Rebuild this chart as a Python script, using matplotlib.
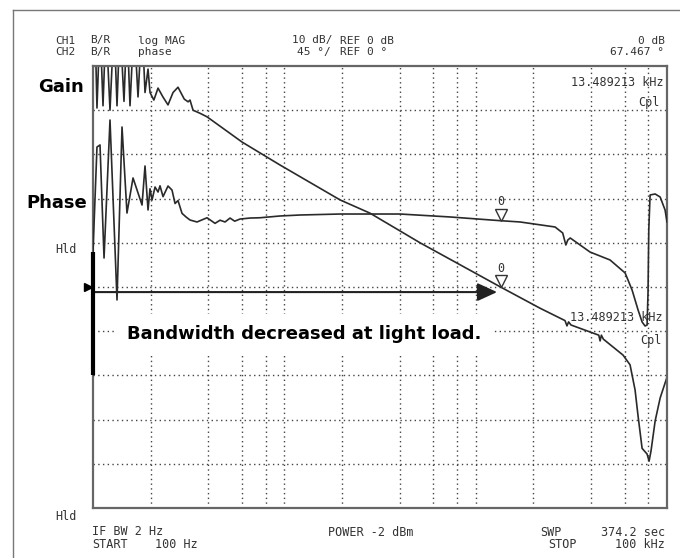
import matplotlib
matplotlib.use("Agg")
import matplotlib.pyplot as plt
from matplotlib.lines import Line2D
from matplotlib.transforms import offset_copy

# --- data ---
gain_freq = [100, 102.4, 104.9, 108.8, 112.8, 116.9, 122.7, 128.8, 133.5, 138.4,
             145.2, 150.5, 156.1, 163.8, 171.9, 180.4, 187.0, 193.9, 198.6, 208,
             218.7, 232, 246.6, 262, 278.2, 300, 314, 321.4, 333.3, 362.6, 394.5,
             601, 949.5, 1956, 2805, 5122, 13489, 21700, 29300, 30000, 30600,
             31500, 44000, 44700, 45400, 46500, 58900, 64100, 68100, 70600, 74100,
             78700, 80600, 82500, 86700, 92100, 100000]
gain_db = [48, 60, 40.5, 60, 41, 60, 40, 60, 41, 60,
           42, 60, 41, 60, 43, 60, 44, 49.3, 44, 42.3,
           45, 43, 41.2, 44, 45.2, 42.5, 41.9, 42.3, 40, 39.3, 38.5,
           32.8, 27.6, 19.7, 16.7, 10, 0, -4.8, -7.6, -8.8, -7.9,
           -8.6, -10.9, -12.2, -10.9, -11.8, -15.4, -17.6, -23.3, -29.2, -36.5,
           -37.8, -39.4, -37.1, -30.3, -25.1, -20.4]

phase_freq = [100, 100, 104.9, 108.8, 114.2, 122.7, 133.5, 141.8, 150.5, 161.9,
              180.4, 187.0, 193.9, 198.6, 203.5, 211, 218.7, 224, 232.3, 246.6,
              258.8, 268.4, 278.2, 291.9, 306.3, 321.4, 349.7, 394.5, 434.3, 461.2,
              490, 520.3, 550, 586.8, 661.8, 746.4, 949.5, 1208, 1956, 4026,
              7348, 13489, 17070, 26000, 28500, 29600, 30300, 31200, 39600, 50400,
              60400, 65700, 70600, 74100, 76800, 78700, 79600, 80300, 81600, 86700,
              92100, 97700, 100000]
phase_deg = [-90, 35.6, 142.5, 144.6, 29.5, 170, -13.2, 162.9, 75.3, 111,
             83.5, 123.2, 78.4, 100, 88.6, 101.8, 96.7, 103, 92, 102.8,
             98.7, 85, 88, 75, 71.3, 68.2, 66.2, 70.5, 64.8, 68,
             66.2, 70.2, 67, 69.2, 70.2, 70.5, 72.3, 73.3, 74.3, 74.3,
             71.3, 67.5, 66.2, 61.1, 55, 42.8, 47.8, 49.9, 35.6, 27.5,
             14.3, -3.1, -23.4, -35.6, -39.7, -38.7, -5, 58, 93.7, 94.7,
             91.6, 78.4, 66.2]

marker_freq = 13489.213
marker_gain = 0.0
marker_phase = 67.467

arrow_start = 100
arrow_end = 12940
arrow_level = -1.15

grid_freqs = [200, 400, 600, 800, 1000, 2000, 4000, 6000, 8000,
              10000, 20000, 40000, 60000, 80000]
grid_db = [-40, -30, -20, -10, 0, 10, 20, 30, 40]

W, H = 680, 558
MONO = "DejaVu Sans Mono"
BOLD = "DejaVu Sans"
TXT = "#333333"
TRACE = "#2a2a2a"


def fx(x):
    return x / W


def fy(y):
    return 1 - y / H


def label(x, y, s, ha="left", **kw):
    # y is the baseline in screen pixels
    opts = dict(family=MONO, size=8, color=TXT, va="baseline", ha=ha)
    opts.update(kw)
    fig.text(fx(x), fy(y), s, **opts)


fig = plt.figure(figsize=(W / 100, H / 100), dpi=100)
fig.patch.set_facecolor("white")

# outer frame of the screenshot (only top and left edges are visible)
fig.add_artist(Line2D([fx(13), 1], [fy(10), fy(10)], color="#777777", lw=1))
fig.add_artist(Line2D([fx(13), fx(13)], [fy(10), 0], color="#777777", lw=1))

ax = fig.add_axes([fx(93), fy(508), (667 - 93) / W, (508 - 66) / H])
ax.set_xscale("log")
ax.set_xlim(100, 100000)
ax.set_ylim(-50, 50)
ax.set_xticks(grid_freqs)
ax.set_xticks([], minor=True)
ax.set_yticks(grid_db)
ax.tick_params(which="both", length=0, labelbottom=False, labelleft=False)
ax.grid(True, color="#444444", lw=1.0, linestyle=(0, (1, 2.4)))
for sp in ax.spines.values():
    sp.set_color("#666666")
    sp.set_linewidth(1.6)

ax2 = ax.twinx()
ax2.set_ylim(-225, 225)
ax2.set_yticks([])
ax2.tick_params(length=0, labelright=False)
for sp in ax2.spines.values():
    sp.set_visible(False)

# traces
ax.plot(gain_freq, gain_db, color=TRACE, lw=1.2)
ax2.plot(phase_freq, phase_deg, color=TRACE, lw=1.2)
ax2.plot(phase_freq[:2], phase_deg[:2], color="black", lw=3, clip_on=False,
         solid_capstyle="butt")

# reference arrow (bandwidth)
ax.annotate("", xy=(arrow_end, arrow_level), xytext=(arrow_start, arrow_level),
            arrowprops=dict(arrowstyle="-|>,head_length=1.2,head_width=0.55",
                            color="#222222", lw=1.5, shrinkA=0, shrinkB=0))

# reference position marker left of the grid
ax.plot([-0.009], [0.5], marker=">", color="black", markersize=6,
        transform=ax.transAxes, clip_on=False)

# markers "0 / triangle"
for a, val in ((ax, marker_gain), (ax2, marker_phase)):
    tr = offset_copy(a.transData, fig=fig, y=6, units="dots")
    a.plot([marker_freq], [val], marker="v", markersize=8, mfc="white",
           mec="#333333", mew=1.0, transform=tr, clip_on=False)
    a.annotate("0", xy=(marker_freq, val), xytext=(0, 19),
               textcoords="offset pixels", ha="center", va="center",
               family=MONO, size=8.5, color=TXT)

# header
label(55, 43.5, "CH1")
label(90, 43.5, "B/R")
label(138, 43.5, "log MAG")
label(333, 43.5, "10 dB/", ha="right")
label(340, 43.5, "REF 0 dB")
label(665, 43.5, "0 dB", ha="right")
label(55, 55, "CH2")
label(90, 55, "B/R")
label(138, 55, "phase")
label(331, 55, "45 \u00b0/", ha="right")
label(340, 55, "REF 0 \u00b0")
label(664, 55, "67.467 \u00b0", ha="right")

# marker readouts inside the grid
label(664, 86, "13.489213 kHz", ha="right", size=8.5)
label(660, 106, "Cpl", ha="right", size=8.5)
label(663, 321, "13.489213 kHz", ha="right", size=8.5)
label(662, 344, "Cpl", ha="right", size=8.5)

# side labels
label(55, 253, "Hld", size=8.5)
label(55, 520, "Hld", size=8.5)

# footer
label(92, 535, "IF BW 2 Hz", size=8.5)
label(92, 548, "START", size=8.5)
label(155, 548, "100 Hz", size=8.5)
label(328, 536, "POWER -2 dBm", size=8.5)
label(540, 536, "SWP", size=8.5)
label(665, 536, "374.2 sec", ha="right", size=8.5)
label(548, 548, "STOP", size=8.5)
label(665, 548, "100 kHz", ha="right", size=8.5)

# bold annotations
fig.text(fx(84), fy(92), "Gain", family=BOLD, weight="bold", size=13,
         va="baseline", ha="right", color="black")
fig.text(fx(87), fy(208), "Phase", family=BOLD, weight="bold", size=13,
         va="baseline", ha="right", color="black")
fig.text(fx(127), fy(339), "Bandwidth decreased at light load.", family=BOLD,
         weight="bold", size=13, va="baseline", ha="left", color="black",
         bbox=dict(facecolor="white", edgecolor="none", pad=8), zorder=5)

fig.savefig("out.png", dpi=100, facecolor="white")
